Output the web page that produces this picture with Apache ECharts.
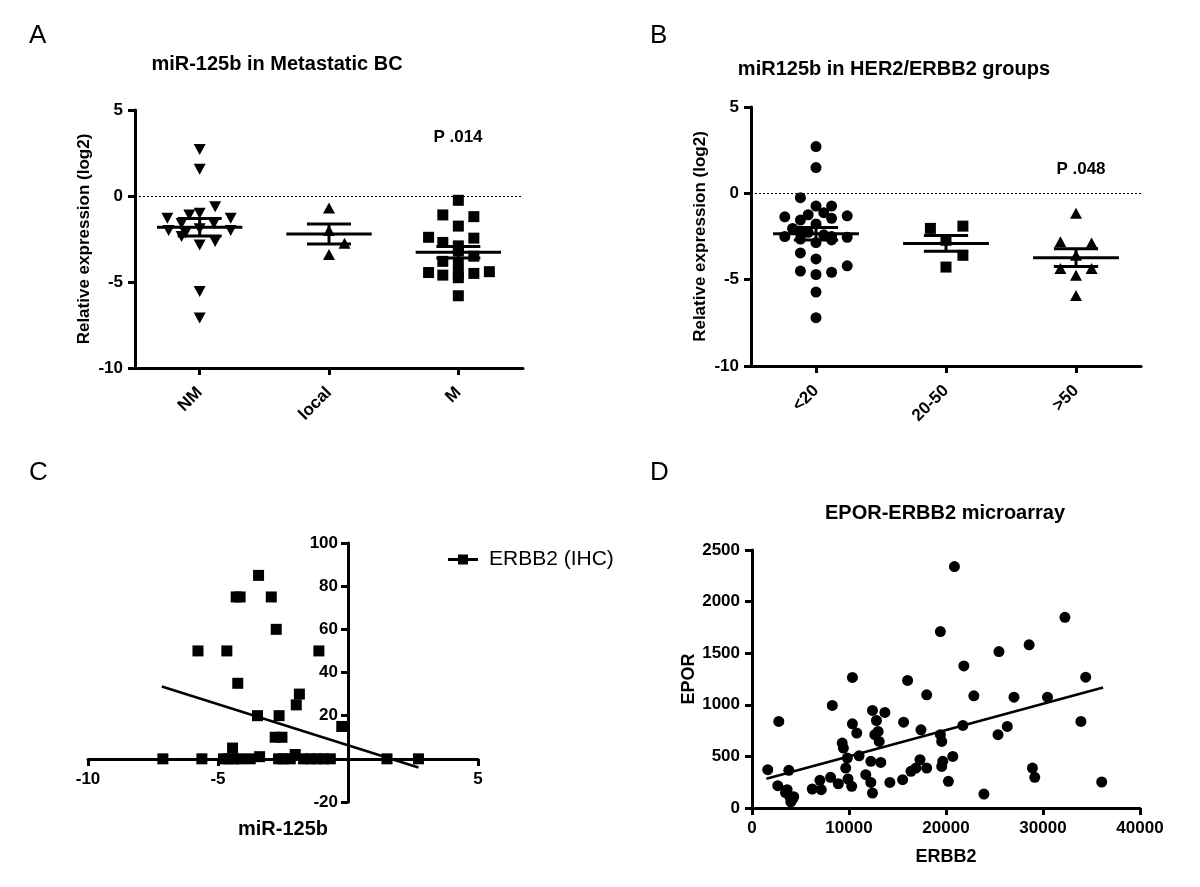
<!DOCTYPE html>
<html>
<head>
<meta charset="utf-8">
<title>miR-125b figure</title>
<script src="https://cdn.jsdelivr.net/npm/echarts@6/dist/echarts.min.js"></script>
<style>
html, body { margin: 0; padding: 0; background: #fff; }
#chart { width: 1200px; height: 887px; }
</style>
</head>
<body>
<div id="chart"></div>
<script>
// ---- Panel A: miR-125b in Metastatic BC ----
const metaCategories = ['NM', 'local', 'M'];
const nmJitter = [0, 0, 0.12, 0, -0.08, -0.25, 0.24, -0.14, 0.11, 0, -0.24, 0.24, -0.11, -0.14, 0.12, 0, 0, 0];
const nmValues = [2.7, 1.55, -0.62, -1.0, -1.1, -1.3, -1.3, -1.6, -1.6, -1.9, -2.0, -2.0, -2.15, -2.35, -2.65, -2.85, -5.55, -7.1];
const localJitter = [0, 0, 0.12, 0];
const localValues = [-0.7, -2.0, -2.75, -3.4];
const mJitter = [0, -0.12, 0.12, 0, -0.23, 0.12, -0.12, 0, 0, 0.12, -0.12, 0, 0.24, -0.23, 0.12, -0.12, 0, 0, 0];
const mValues = [-0.25, -1.1, -1.2, -1.75, -2.4, -2.45, -2.7, -2.9, -3.2, -3.5, -3.8, -3.9, -4.4, -4.45, -4.5, -4.6, -4.5, -4.75, -5.8];

// ---- Panel B: miR125b in HER2/ERBB2 groups ----
const herCategories = ['<20', '20-50', '>50'];
const lowJitter = [0, 0, -0.12, 0, 0.12, -0.24, 0.06, -0.06, 0.24, -0.12, 0.12, 0, -0.18, -0.24, -0.12, -0.06, 0.06, 0.12, 0.24, 0, -0.12, 0.12, -0.12, 0, 0.24, -0.12, 0, 0.12, 0, 0];
const lowValues = [2.71, 1.49, -0.25, -0.74, -0.74, -1.36, -1.12, -1.24, -1.3, -1.55, -1.45, -1.77, -2.03, -2.5, -2.3, -2.26, -2.4, -2.5, -2.55, -2.85, -2.65, -2.7, -3.45, -3.8, -4.2, -4.5, -4.7, -4.57, -5.72, -7.2];
const midJitter = [-0.12, 0.13, 0, 0.13, 0];
const midValues = [-2.03, -1.9, -2.72, -3.59, -4.27];
const highJitter = [0, -0.12, 0.12, 0, -0.12, 0.12, 0, 0];
const highValues = [-1.16, -2.81, -2.87, -3.59, -4.36, -4.36, -4.75, -5.91];

// ---- Panel C: ERBB2 (IHC) vs miR-125b ----
const ihcMir = [-7.12, -5.62, -5.77, -4.66, -4.44, -4.3, -4.15, -4.24, -3.44, -2.95, -2.76, -3.48, -2.65, -2.8, -2.54, -1.99, -1.87, -1.12, -0.24, -2.03, -3.4, 1.5, 2.71,
  -4.79, -4.6, -4.4, -4.15, -3.76, -2.67, -2.48, -2.22, -1.71, -1.45, -1.2, -0.94, -0.68];
const ihcErbb2 = [0, 0, 50, 50, 5, 75, 75, 35, 85, 75, 60, 20, 20, 10, 10, 25, 30, 50, 15, 2, 1, 0, 0,
  0, 0, 0, 0, 0, 0, 0, 0, 0, 0, 0, 0, 0];
const ihcFitX = [-7.16, 2.71];
const ihcFitY = [33.5, -4.0];

// ---- Panel D: EPOR-ERBB2 microarray ----
const arrayErbb2 = [1622, 2760, 2657, 3795, 3623, 3450, 3900, 4300, 4000, 4200, 6210, 7000, 7140, 8100, 8280, 8900, 9300, 9420, 9660, 9830,
  9900, 10350, 10350, 10280, 10800, 11040, 11730, 12250, 12420, 12420, 12250, 12830, 12660, 13000, 13110, 13280, 13700, 14210, 15530, 15630,
  16040, 16390, 16900, 17420, 17320, 18010, 18010, 19420, 19420, 19560, 19670, 19560, 20250, 20700, 20870, 21740, 21840, 22870, 23910, 25360,
  25460, 26320, 27010, 28570, 28910, 29150, 30460, 32260, 33910, 34400, 36050];
const arrayEpor = [371, 839, 216, 365, 177, 150, 110, 110, 60, 90, 184, 268, 177, 297, 994, 235, 629, 581, 387, 484,
  281, 1265, 816, 210, 726, 506, 323, 452, 945, 145, 248, 848, 710, 742, 645, 442, 926, 248, 274, 832,
  1236, 355, 387, 758, 468, 1097, 387, 1710, 710, 645, 452, 403, 258, 500, 2339, 800, 1377, 1087, 135, 710,
  1516, 790, 1074, 1581, 387, 297, 1074, 1848, 839, 1268, 252];
const arrayFitX = [1480, 36200];
const arrayFitY = [284, 1168];

const FONT = '"Liberation Sans", Arial, sans-serif';

const toPoints = (center, jitter, values) => values.map((v, i) => [center + jitter[i], v]);
const stats = (center, values) => {
    const n = values.length;
    const mean = values.reduce((s, v) => s + v, 0) / n;
    const sd = Math.sqrt(values.reduce((s, v) => s + (v - mean) * (v - mean), 0) / (n - 1));
    return [center, mean, sd / Math.sqrt(n)];
};
const pairs = (xs, ys) => xs.map((x, i) => [x, ys[i]]);
const plain = (v) => String(v);

const renderMeanSem = (params, api) => {
    const cx = api.value(0), m = api.value(1), s = api.value(2);
    const seg = (x1, y1, x2, y2) => {
        const a = api.coord([x1, y1]);
        const b = api.coord([x2, y2]);
        return {
            type: 'line',
            shape: { x1: a[0], y1: a[1], x2: b[0], y2: b[1] },
            style: { stroke: '#000', lineWidth: 3 }
        };
    };
    return {
        type: 'group',
        children: [
            seg(cx - 0.33, m, cx + 0.33, m),
            seg(cx - 0.17, m + s, cx + 0.17, m + s),
            seg(cx - 0.17, m - s, cx + 0.17, m - s),
            seg(cx, m - s, cx, m + s)
        ]
    };
};

const blackLine = { show: true, onZero: false, lineStyle: { color: '#000', width: 3 } };
const blackTick = { show: true, length: 7, lineStyle: { color: '#000', width: 3 } };
const boldLabel = { color: '#000', fontSize: 17, fontWeight: 'bold', fontFamily: FONT };
const axisName = { color: '#000', fontSize: 17, fontWeight: 'bold', fontFamily: FONT };

const groupXAxis = (gridIndex, cats) => ({
    gridIndex: gridIndex,
    type: 'value',
    min: 0,
    max: 3,
    axisLine: blackLine,
    axisTick: Object.assign({}, blackTick, { customValues: [0.5, 1.5, 2.5] }),
    axisLabel: Object.assign({}, boldLabel, {
        customValues: [0.5, 1.5, 2.5],
        rotate: 45,
        margin: 22,
        formatter: (v) => cats[Math.floor(v)]
    }),
    splitLine: { show: false }
});

const groupYAxis = (gridIndex) => ({
    gridIndex: gridIndex,
    type: 'value',
    min: -10,
    max: 5,
    interval: 5,
    name: 'Relative expression (log2)',
    nameLocation: 'middle',
    nameGap: 42,
    nameTextStyle: axisName,
    axisLine: blackLine,
    axisTick: blackTick,
    axisLabel: Object.assign({}, boldLabel, { margin: 12 }),
    splitLine: { show: false }
});

const zeroDots = {
    silent: true,
    symbol: ['none', 'none'],
    label: { show: false },
    lineStyle: { color: '#000', width: 1, type: [2, 2] },
    data: [{ yAxis: 0 }]
};

const scatter = (xi, yi, name, data, symbol, size, rotate) => ({
    name: name,
    type: 'scatter',
    xAxisIndex: xi,
    yAxisIndex: yi,
    data: data,
    symbol: symbol,
    symbolSize: size,
    symbolRotate: rotate || 0,
    itemStyle: { color: '#000', opacity: 1 },
    emphasis: { disabled: true },
    z: 2
});

const meanSemSeries = (idx, data) => ({
    type: 'custom',
    xAxisIndex: idx,
    yAxisIndex: idx,
    renderItem: renderMeanSem,
    data: data,
    silent: true,
    z: 5
});

const fitLine = (idx, xs, ys) => ({
    type: 'line',
    xAxisIndex: idx,
    yAxisIndex: idx,
    data: pairs(xs, ys),
    symbol: 'none',
    lineStyle: { color: '#000', width: 2.5 },
    silent: true,
    z: 4
});

const titleText = (text, left, top, size, weight, align) => ({
    text: text,
    left: left,
    top: top,
    textAlign: align || 'left',
    textStyle: { color: '#000', fontSize: size, fontWeight: weight, fontFamily: FONT }
});

// panel C grid: x from -10..5 over 390px, y from -20..100 over 259px;
// its axes cross at the origin, so they are shifted inward with offset
const gridC = { left: 88, top: 543, width: 390, height: 259 };
const cYAxisShift = -Math.round(gridC.width * 10 / 15);
const cXAxisShift = -Math.round(gridC.height * 20 / 120);

const chart = echarts.init(document.getElementById('chart'), null, { renderer: 'canvas' });

const option = {
    backgroundColor: '#fff',
    animation: false,
    title: [
        titleText('A', 24, 18, 26, 'normal'),
        titleText('B', 645, 18, 26, 'normal'),
        titleText('C', 24, 455, 26, 'normal'),
        titleText('D', 645, 455, 26, 'normal'),
        titleText('miR-125b in Metastatic BC', 272, 49, 20, 'bold', 'center'),
        titleText('miR125b in HER2/ERBB2 groups', 889, 54, 20, 'bold', 'center'),
        titleText('EPOR-ERBB2 microarray', 940, 498, 20, 'bold', 'center'),
        titleText('P .014', 453, 124, 17, 'bold', 'center'),
        titleText('P .048', 1076, 156, 17, 'bold', 'center')
    ],
    legend: {
        data: [{ name: 'ERBB2 (IHC)', icon: 'path://M0,3.5H10V0H20V3.5H30V6.5H20V10H10V6.5H0Z' }],
        left: 443,
        top: 544,
        itemWidth: 30,
        itemHeight: 10,
        textStyle: { color: '#000', fontSize: 21, fontFamily: FONT, padding: [0, 0, 0, 6] }
    },
    grid: [
        { left: 135, top: 110, width: 388, height: 258, outerBoundsMode: 'none' },
        { left: 751, top: 107, width: 390, height: 259, outerBoundsMode: 'none' },
        Object.assign({ outerBoundsMode: 'none' }, gridC),
        { left: 752, top: 550, width: 388, height: 258, outerBoundsMode: 'none' }
    ],
    xAxis: [
        groupXAxis(0, metaCategories),
        groupXAxis(1, herCategories),
        {
            gridIndex: 2,
            type: 'value',
            position: 'bottom',
            offset: cXAxisShift,
            min: -10,
            max: 5,
            interval: 5,
            name: 'miR-125b',
            nameLocation: 'middle',
            nameGap: 60,
            nameTextStyle: Object.assign({}, axisName, { fontSize: 20 }),
            axisLine: blackLine,
            axisTick: Object.assign({}, blackTick, { customValues: [-10, -5, 5] }),
            axisLabel: Object.assign({}, boldLabel, { customValues: [-10, -5, 5], margin: 12 }),
            splitLine: { show: false }
        },
        {
            gridIndex: 3,
            type: 'value',
            min: 0,
            max: 40000,
            interval: 10000,
            name: 'ERBB2',
            nameLocation: 'middle',
            nameGap: 40,
            nameTextStyle: Object.assign({}, axisName, { fontSize: 18 }),
            axisLine: blackLine,
            axisTick: blackTick,
            axisLabel: Object.assign({}, boldLabel, { margin: 12, formatter: plain }),
            splitLine: { show: false }
        }
    ],
    yAxis: [
        groupYAxis(0),
        groupYAxis(1),
        {
            gridIndex: 2,
            type: 'value',
            position: 'left',
            offset: cYAxisShift,
            min: -20,
            max: 100,
            interval: 20,
            axisLine: blackLine,
            axisTick: blackTick,
            axisLabel: Object.assign({}, boldLabel, { margin: 10, formatter: (v) => (v === 0 ? '' : String(v)) }),
            splitLine: { show: false }
        },
        {
            gridIndex: 3,
            type: 'value',
            min: 0,
            max: 2500,
            interval: 500,
            name: 'EPOR',
            nameLocation: 'middle',
            nameGap: 40,
            nameTextStyle: Object.assign({}, axisName, { fontSize: 18 }),
            axisLine: blackLine,
            axisTick: blackTick,
            axisLabel: Object.assign({}, boldLabel, { margin: 12, formatter: plain }),
            splitLine: { show: false }
        }
    ],
    series: [
        // Panel A
        Object.assign(scatter(0, 0, 'NM', toPoints(0.5, nmJitter, nmValues), 'triangle', [12, 11], 180), { markLine: zeroDots }),
        scatter(0, 0, 'local', toPoints(1.5, localJitter, localValues), 'triangle', [12, 11]),
        scatter(0, 0, 'M', toPoints(2.5, mJitter, mValues), 'rect', 11),
        meanSemSeries(0, [stats(0.5, nmValues), stats(1.5, localValues), stats(2.5, mValues)]),
        // Panel B
        Object.assign(scatter(1, 1, '<20', toPoints(0.5, lowJitter, lowValues), 'circle', 11), { markLine: zeroDots }),
        scatter(1, 1, '20-50', toPoints(1.5, midJitter, midValues), 'rect', 11),
        scatter(1, 1, '>50', toPoints(2.5, highJitter, highValues), 'triangle', [12, 11]),
        meanSemSeries(1, [stats(0.5, lowValues), stats(1.5, midValues), stats(2.5, highValues)]),
        // Panel C
        scatter(2, 2, 'ERBB2 (IHC)', pairs(ihcMir, ihcErbb2), 'rect', 11),
        fitLine(2, ihcFitX, ihcFitY),
        // Panel D
        scatter(3, 3, 'EPOR', pairs(arrayErbb2, arrayEpor), 'circle', 11),
        fitLine(3, arrayFitX, arrayFitY)
    ]
};

chart.setOption(option);
</script>
</body>
</html>
